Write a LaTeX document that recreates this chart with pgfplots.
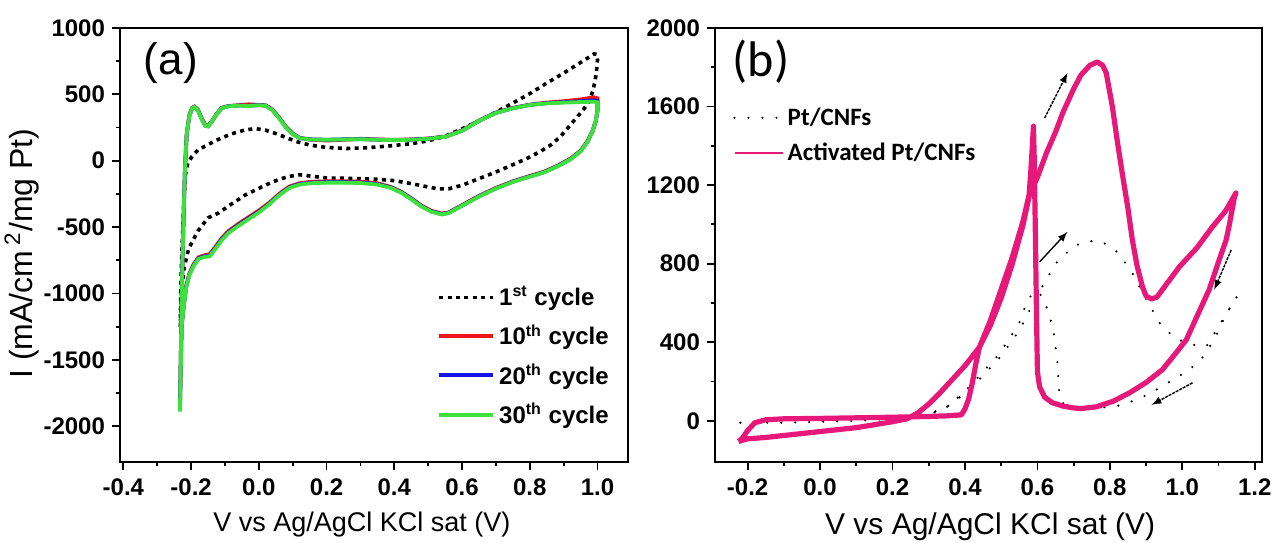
\documentclass[border=0pt]{standalone}
\usepackage{pgfplots}
\pgfplotsset{compat=1.18}
\usepackage{fontspec}
\setmainfont{Liberation Sans}
\newfontfamily\calibri{Carlito}
\definecolor{cred}{RGB}{240,20,20}
\definecolor{cblue}{RGB}{20,20,230}
\definecolor{cgreen}{RGB}{60,225,60}
\definecolor{cpink}{RGB}{230,24,122}

\pgfplotsset{
  myaxis/.style={
    scale only axis,
    anchor=south west,
    tick align=outside,
    xtick pos=bottom, ytick pos=left,
    major tick length=4pt, minor tick length=2.2pt,
    minor x tick num=1, minor y tick num=1,
    axis line style={line width=1.1pt},
    every tick/.style={black, line width=0.9pt},
    /pgf/number format/assume math mode=true,
    /pgf/number format/1000 sep={},
    xticklabel style={/pgf/number format/fixed, /pgf/number format/precision=1, /pgf/number format/fixed zerofill, yshift=-1pt},
    clip=true,
  }
}

\begin{document}
\begin{tikzpicture}[x=1pt,y=1pt]

% ---------------- panel (a) ----------------
\begin{axis}[myaxis,
  at={(60pt,40pt)}, width=254pt, height=217pt,
  xmin=-0.41, xmax=1.09, ymin=-2270, ymax=1000,
  xtick={-0.4,-0.2,0.0,0.2,0.4,0.6,0.8,1.0},
  ytick={-2000,-1500,-1000,-500,0,500,1000},
  tick label style={font=\bfseries\fontsize{12}{13}\selectfont},
  xlabel={V vs Ag/AgCl KCl sat (V)},
  xlabel style={font=\fontsize{13.5}{15}\selectfont, at={(axis description cs:0.476,0)}, anchor=center, yshift=-31.5pt},
  ylabel={I (mA/cm\,\textsuperscript{2}/mg Pt)},
  every axis y label/.style={at={(axis description cs:-0.193,0.48)}, rotate=90, anchor=center, font=\fontsize{16}{18}\selectfont},
  legend style={at={(axis description cs:0.624,0.415)}, anchor=north west, draw=none, fill=none,
    font=\bfseries\fontsize{12}{13}\selectfont, row sep=4pt, inner sep=0pt, cells={anchor=west}},
  legend image code/.code={\draw[#1] (0pt,0pt) -- (27pt,0pt);},
]
\addplot[black, line width=1.8pt, dash pattern=on 2pt off 2.2pt] coordinates {
(-0.232,-1250) (-0.230,-900) (-0.226,-600) (-0.222,-350) (-0.218,-120) (-0.210,-20) (-0.198,30)
(-0.180,80) (-0.150,122) (-0.120,160) (-0.080,203) (-0.040,232) (-0.010,242) (0.020,230)
(0.050,205) (0.080,175) (0.110,145) (0.150,118) (0.200,100) (0.260,92) (0.320,98) (0.380,110)
(0.450,128) (0.500,150) (0.550,185) (0.600,240) (0.650,300) (0.700,365) (0.750,435) (0.800,505)
(0.850,585) (0.900,660) (0.950,740) (0.990,805) (0.998,800) (1.000,760) (0.996,650) (0.987,530)
(0.972,430) (0.950,360) (0.920,270) (0.890,180) (0.860,115) (0.830,68) (0.790,15) (0.750,-30)
(0.700,-85) (0.650,-135) (0.600,-185) (0.560,-212) (0.530,-212) (0.500,-198) (0.455,-175)
(0.400,-150) (0.350,-140) (0.300,-135) (0.250,-132) (0.200,-130) (0.150,-115) (0.120,-106)
(0.090,-118) (0.060,-140) (0.030,-172) (0.000,-208) (-0.040,-258) (-0.080,-325) (-0.120,-395)
(-0.150,-430) (-0.180,-530) (-0.207,-660) (-0.220,-800) (-0.228,-960) (-0.232,-1250)
};
\addlegendentry{1\textsuperscript{st} cycle}
\addplot[cred, line width=1.9pt] coordinates {
(-0.233,-1850) (-0.230,-1400) (-0.227,-900) (-0.222,-400) (-0.218,-50) (-0.213,200) (-0.205,345)
(-0.197,398) (-0.190,408) (-0.180,385) (-0.168,315) (-0.158,268) (-0.150,262) (-0.140,292)
(-0.125,352) (-0.110,398) (-0.090,412) (-0.060,418) (-0.030,425) (0.000,420) (0.020,418)
(0.040,385) (0.060,325) (0.080,255) (0.100,205) (0.120,172) (0.150,160) (0.200,152) (0.250,158)
(0.300,165) (0.350,160) (0.400,157) (0.450,160) (0.500,167) (0.550,182) (0.600,228) (0.650,302)
(0.700,362) (0.750,398) (0.800,422) (0.850,438) (0.900,448) (0.950,462) (0.990,478) (1.000,470)
(1.000,380) (0.995,300) (0.985,222) (0.970,145) (0.950,75) (0.920,15) (0.880,-40) (0.840,-85)
(0.800,-115) (0.750,-155) (0.700,-205) (0.650,-265) (0.600,-335) (0.560,-390) (0.540,-398)
(0.510,-378) (0.480,-338) (0.450,-283) (0.420,-233) (0.390,-198) (0.350,-170) (0.300,-158)
(0.250,-155) (0.200,-155) (0.150,-160) (0.120,-170) (0.090,-195) (0.060,-250) (0.030,-318)
(0.000,-375) (-0.030,-425) (-0.060,-475) (-0.090,-530) (-0.110,-585) (-0.130,-655) (-0.145,-705)
(-0.160,-712) (-0.178,-728) (-0.192,-778) (-0.205,-848) (-0.215,-950) (-0.222,-1090)
(-0.228,-1240) (-0.233,-1850)
};
\addlegendentry{10\textsuperscript{th} cycle}
\addplot[cblue, line width=1.9pt] coordinates {
(-0.233,-1870) (-0.230,-1400) (-0.227,-900) (-0.222,-400) (-0.218,-50) (-0.213,200) (-0.205,342)
(-0.197,396) (-0.190,406) (-0.180,382) (-0.168,312) (-0.158,264) (-0.150,260) (-0.140,291)
(-0.125,351) (-0.110,396) (-0.090,411) (-0.060,416) (-0.030,414) (0.000,419) (0.020,416)
(0.040,382) (0.060,322) (0.080,252) (0.100,202) (0.120,171) (0.150,161) (0.200,158) (0.250,161)
(0.300,163) (0.350,159) (0.400,156) (0.450,159) (0.500,166) (0.550,181) (0.600,226) (0.650,301)
(0.700,361) (0.750,396) (0.800,421) (0.850,434) (0.900,441) (0.950,448) (0.990,455) (1.000,450)
(1.000,380) (0.995,300) (0.985,221) (0.970,142) (0.950,72) (0.920,12) (0.880,-43) (0.840,-88)
(0.800,-118) (0.750,-158) (0.700,-208) (0.650,-268) (0.600,-338) (0.560,-393) (0.540,-402)
(0.510,-382) (0.480,-342) (0.450,-287) (0.420,-237) (0.390,-202) (0.350,-176) (0.300,-164)
(0.250,-161) (0.200,-161) (0.150,-166) (0.120,-176) (0.090,-201) (0.060,-256) (0.030,-326)
(0.000,-384) (-0.030,-434) (-0.060,-484) (-0.090,-540) (-0.110,-594) (-0.130,-664) (-0.145,-714)
(-0.160,-720) (-0.178,-735) (-0.192,-785) (-0.205,-855) (-0.215,-956) (-0.222,-1096)
(-0.228,-1246) (-0.233,-1870)
};
\addlegendentry{20\textsuperscript{th} cycle}
\addplot[cgreen, line width=1.9pt] coordinates {
(-0.233,-1890) (-0.230,-1400) (-0.227,-900) (-0.222,-400) (-0.218,-50) (-0.213,200) (-0.205,340)
(-0.197,395) (-0.190,405) (-0.180,380) (-0.168,310) (-0.158,262) (-0.150,258) (-0.140,290)
(-0.125,350) (-0.110,395) (-0.090,410) (-0.060,415) (-0.030,412) (0.000,418) (0.020,415)
(0.040,380) (0.060,320) (0.080,250) (0.100,200) (0.120,170) (0.150,160) (0.200,158) (0.250,160)
(0.300,162) (0.350,158) (0.400,155) (0.450,158) (0.500,165) (0.550,180) (0.600,225) (0.650,300)
(0.700,360) (0.750,395) (0.800,420) (0.850,432) (0.900,438) (0.950,442) (0.990,445) (1.000,440)
(1.000,380) (0.995,300) (0.985,220) (0.970,140) (0.950,70) (0.920,10) (0.880,-45) (0.840,-90)
(0.800,-120) (0.750,-160) (0.700,-210) (0.650,-270) (0.600,-340) (0.560,-395) (0.540,-405)
(0.510,-385) (0.480,-345) (0.450,-290) (0.420,-240) (0.390,-205) (0.350,-180) (0.300,-168)
(0.250,-165) (0.200,-165) (0.150,-170) (0.120,-180) (0.090,-205) (0.060,-260) (0.030,-330)
(0.000,-390) (-0.030,-440) (-0.060,-490) (-0.090,-545) (-0.110,-600) (-0.130,-670) (-0.145,-720)
(-0.160,-725) (-0.178,-740) (-0.192,-790) (-0.205,-860) (-0.215,-960) (-0.222,-1100)
(-0.228,-1250) (-0.233,-1890)
};
\addlegendentry{30\textsuperscript{th} cycle}
\node[font=\fontsize{22}{24}\selectfont] at (axis description cs:0.1,0.919) {(a)};
\end{axis}

% ---------------- panel (b) ----------------
\begin{axis}[myaxis,
  at={(357.5pt,40pt)}, width=273.5pt, height=217pt,
  xmin=-0.29, xmax=1.22, ymin=-210, ymax=2000,
  xtick={-0.2,0.0,0.2,0.4,0.6,0.8,1.0,1.2},
  ytick={0,400,800,1200,1600,2000},
  tick label style={font=\bfseries\fontsize{12}{13}\selectfont},
  xlabel={V vs Ag/AgCl KCl sat (V)},
  xlabel style={font=\fontsize{15}{17}\selectfont, at={(axis description cs:0.503,0)}, anchor=center, yshift=-32.5pt},
  legend style={at={(axis description cs:0.033,0.827)}, anchor=north west, draw=none, fill=none,
    font=\calibri\bfseries\fontsize{12.5}{14}\selectfont, row sep=3.5pt, inner sep=0pt, cells={anchor=west}},
  legend image code/.code={\draw[#1, line width=1.1pt] (0pt,0pt) -- (24pt,0pt);},
]
\addplot[black, line width=1.2pt, line cap=round, dash pattern=on 0pt off 7pt] coordinates {
(-0.22,-10) (-0.15,0) (-0.05,5) (0.05,8) (0.15,10) (0.25,20) (0.30,35) (0.35,70) (0.40,140)
(0.45,230) (0.50,330) (0.55,460) (0.60,640) (0.65,800) (0.70,890) (0.74,915) (0.78,910)
(0.82,860) (0.86,760) (0.90,620) (0.94,490) (0.98,420) (1.02,390) (1.066,377) (1.10,480)
(1.15,630) (1.12,540) (1.09,420) (1.06,330) (1.02,260) (0.98,215) (0.93,160) (0.88,110)
(0.82,75) (0.76,65) (0.70,70) (0.67,90) (0.66,150) (0.655,300) (0.645,450) (0.63,560)
(0.61,640) (0.59,660) (0.57,600) (0.55,500) (0.52,410) (0.49,330) (0.45,250) (0.40,150)
(0.35,70) (0.30,30) (0.20,10) (0.10,0) (0.00,-5) (-0.10,-10) (-0.22,-10)
};
\addlegendentry{Pt/CNFs}
\addplot[cpink, line width=2.6pt, line join=round] coordinates {
(-0.225,-105) (-0.20,-92) (-0.15,-85) (-0.10,-75) (-0.05,-65) (0.00,-55) (0.05,-45) (0.10,-35)
(0.15,-20) (0.20,-5) (0.24,10) (0.27,40) (0.30,85) (0.33,140) (0.36,200) (0.40,280) (0.44,375)
(0.47,485) (0.50,625) (0.53,795) (0.56,995) (0.578,1150) (0.60,1240) (0.625,1364) (0.65,1470)
(0.67,1568) (0.70,1690) (0.72,1760) (0.745,1810) (0.765,1827) (0.78,1810) (0.79,1771)
(0.807,1598) (0.82,1430) (0.834,1262) (0.85,1080) (0.862,921) (0.875,790) (0.89,682)
(0.90,635) (0.915,620) (0.93,630) (0.95,680) (0.992,784) (1.04,880) (1.083,987) (1.12,1070)
(1.148,1160) (1.143,1130) (1.13,1000) (1.121,921) (1.10,810) (1.074,667) (1.04,530)
(1.011,412) (0.98,340) (0.945,260) (0.90,195) (0.854,142) (0.81,100) (0.763,71) (0.72,62)
(0.697,66) (0.67,75) (0.641,92) (0.62,120) (0.606,173) (0.60,250) (0.597,600) (0.594,1000)
(0.591,1350) (0.589,1500) (0.586,1400) (0.581,1250) (0.577,1150) (0.56,1015) (0.53,830)
(0.50,670) (0.47,510) (0.44,375) (0.43,290) (0.42,190) (0.41,110) (0.40,60) (0.39,30)
(0.35,25) (0.30,22) (0.25,20) (0.20,18) (0.10,15) (0.00,12) (-0.10,10) (-0.15,5) (-0.18,-10)
(-0.20,-50) (-0.215,-90) (-0.225,-105)
};
\addlegendentry{Activated Pt/CNFs}
\draw[-latex, line width=0.7pt, dash pattern=on 1.5pt off 0.5pt] (axis cs:0.62,1542) -- (axis cs:0.683,1771);
\draw[-latex, line width=0.7pt] (axis cs:0.606,809) -- (axis cs:0.683,962);
\draw[-latex, line width=0.7pt, dash pattern=on 1.5pt off 0.5pt] (axis cs:1.135,870) -- (axis cs:1.088,667);
\draw[-latex, line width=0.7pt, dash pattern=on 1.5pt off 0.5pt] (axis cs:1.028,193) -- (axis cs:0.915,81);
\node[font=\calibri\fontsize{25}{27}\selectfont] at (axis description cs:0.084,0.922) {(b)};
\end{axis}
\pgfresetboundingbox
\path[use as bounding box] (0pt,0pt) rectangle (636.5pt,271pt);
\end{tikzpicture}
\end{document}
